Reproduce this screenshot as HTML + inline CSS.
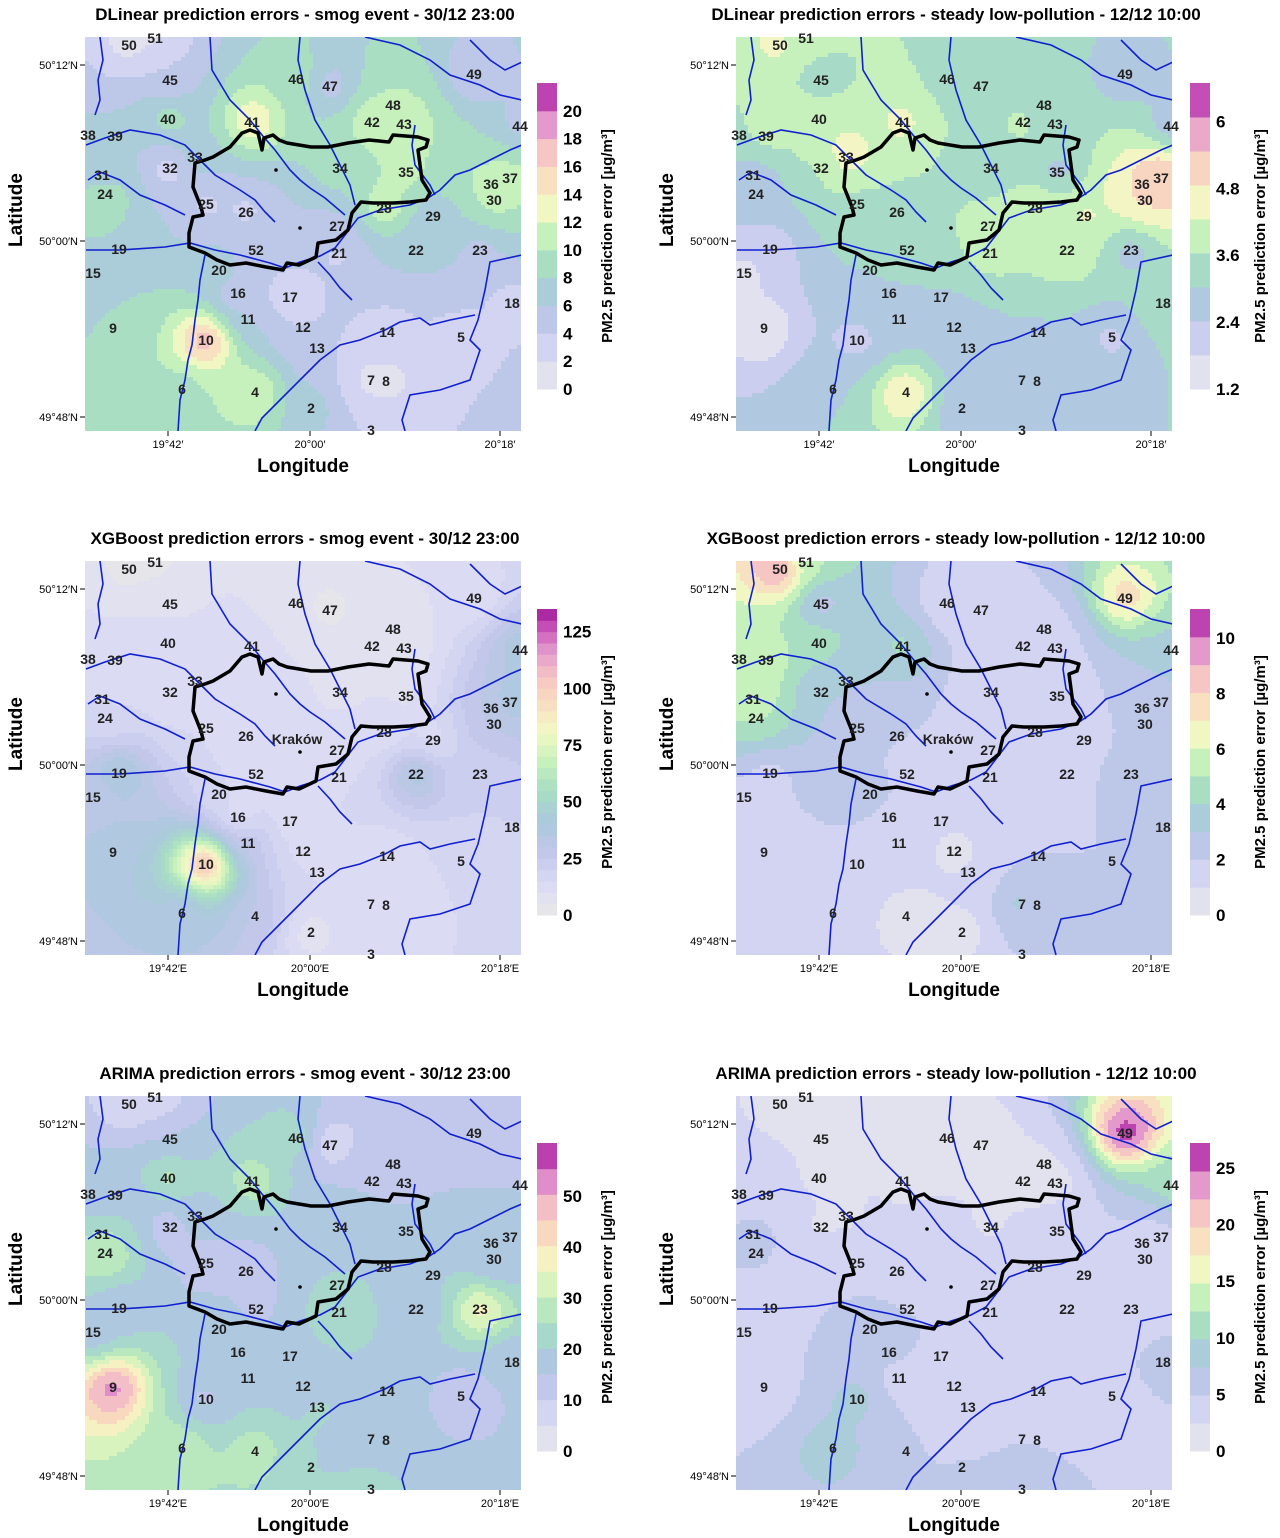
<!DOCTYPE html>
<html><head><meta charset="utf-8"><style>
html,body{margin:0;padding:0;background:#fff}
svg{display:block;font-family:"Liberation Sans",sans-serif}
.t{font-weight:bold;font-size:17px}
.st{font-weight:bold;font-size:14px;fill:#222}
.ax{font-size:11px}
.al{font-weight:bold;font-size:19px}
.cl{font-weight:bold;font-size:17px}
.ct{font-weight:bold;font-size:15px}
</style></head><body>
<svg id="fig" width="1280" height="1538" viewBox="0 0 1280 1538" xmlns="http://www.w3.org/2000/svg">
</svg>
<script>
// station ids and map positions (map units within the 436x394 map frame origin at 85,37)
const stationIds=[50,51,45,46,47,49,48,42,43,44,40,41,38,39,33,32,34,35,31,36,37,24,30,25,26,28,29,27,19,52,21,22,23,15,20,16,17,18,11,9,12,14,5,10,13,7,8,6,4,2,3];
const stationX=[129,155,170,296,330,474,393,372,404,520,168,252,88,115,195,170,340,406,102,491,510,105,494,206,246,384,433,337,119,256,339,416,480,93,219,238,290,512,248,113,303,387,461,206,317,371,386,182,255,311,371];
const stationY=[45,38,80,79,86,74,105,122,124,126,119,122,135,136,157,168,168,172,175,184,178,194,200,204,212,208,216,226,249,250,253,250,250,273,270,293,297,303,319,328,327,332,337,340,348,380,381,389,392,408,430];
// error values per station (same order as stationIds)
const errDLinearSmog=[1,1.5,4,10,4,4,10,12,12,5,10,15,6,6,8,1.5,9,11,6,11,11,11,11,3,3,13,6,5,8,5,3,6,5,8,8,3,1,3,6,8,4,3,3,20,4,1,1,9,13,7,4];
const errDLinearSteady=[4.5,4,3,3.5,3,2.5,3,4,3.5,2.5,4.5,4.5,3.6,4,5,3.5,3,2.5,2.5,5,6,2.5,5,3.5,3.5,4.5,4.5,4,2,3.5,4,4.2,2.5,1.5,3,3,3,3.5,2.5,1.2,2.5,3,2.2,2,2.5,2.5,2.5,3,5.3,2.5,2.5];
const errXGBSmog=[3,3,8,5,3,10,5,5,5,40,15,12,10,10,10,10,8,8,15,30,45,15,30,15,10,10,10,10,45,10,15,45,20,30,15,5,10,20,30,40,12,10,15,125,15,10,10,35,30,5,15];
const errXGBSteady=[10.5,5,2,1,1,8,1.5,1.5,1.5,4,5,4.5,6,6,3,3,1,1,6.5,2,3,5,2,2,2,1.5,1.5,1,1.5,1.5,1,1.5,3,1.5,3,1.5,1,2,1.5,1,0.5,2,2,2,1,4,2,1.5,0.3,0.3,2];
const errARIMASmog=[5,5,15,25,3,10,10,15,15,15,30,30,15,15,20,8,20,15,25,15,15,35,15,10,10,20,20,20,15,12,28,15,42,15,20,20,18,15,20,56,15,18,10,12,22,15,15,30,30,20,25];
const errARIMASteady=[2,2,2,1,1,28,2,1,1,12,2,2,3,3,2,2,2,4,7,4,4,5,4,4,3,4,4,4,4,5,4,3,3,5,8,6,5,6,3,3,3,2,4,9,4,5,5,9,5,5,7];
const baseValues=[4.5,2.8,12,1.5,18,4];
const tickDLinearSmog=[0,2,4,6,8,10,12,14,16,18,20];
const tickDLinearSteady=[1.2,2.4,3.6,4.8,6];
const tickXGBSmog=[0,25,50,75,100,125];
const tickXGBSteady=[0,2,4,6,8,10];
const tickARIMASmog=[0,10,20,30,40,50];
const tickARIMASteady=[0,5,10,15,20,25];
const titles=["DLinear prediction errors - smog event - 30/12 23:00","DLinear prediction errors - steady low-pollution - 12/12 10:00","XGBoost prediction errors - smog event - 30/12 23:00","XGBoost prediction errors - steady low-pollution - 12/12 10:00","ARIMA prediction errors - smog event - 30/12 23:00","ARIMA prediction errors - steady low-pollution - 12/12 10:00"];

const panels=[
 {vals:errDLinearSmog,ticks:tickDLinearSmog,vmin:0,vmax:22,nseg:11,dx:0,dy:0,E:""},
 {vals:errDLinearSteady,ticks:tickDLinearSteady,vmin:1.2,vmax:6.69,nseg:9,dx:651,dy:0,E:""},
 {vals:errXGBSmog,ticks:tickXGBSmog,vmin:0,vmax:135,nseg:27,dx:0,dy:524,E:"E"},
 {vals:errXGBSteady,ticks:tickXGBSteady,vmin:0,vmax:11.05,nseg:11,dx:651,dy:524,E:"E"},
 {vals:errARIMASmog,ticks:tickARIMASmog,vmin:0,vmax:60.4,nseg:12,dx:0,dy:1059,E:"E"},
 {vals:errARIMASteady,ticks:tickARIMASteady,vmin:0,vmax:27.2,nseg:11,dx:651,dy:1059,E:"E"}
];
const pal=[[0,[232,232,232]],[0.09,[220,220,244]],[0.2,[196,200,236]],[0.3,[172,200,222]],[0.4,[166,220,196]],[0.5,[198,240,188]],[0.6,[244,248,196]],[0.7,[248,220,192]],[0.78,[246,196,196]],[0.86,[228,156,204]],[0.93,[204,92,188]],[1,[160,24,154]]];
function col(t){t=Math.max(0,Math.min(1,t));for(let i=1;i<pal.length;i++){if(t<=pal[i][0]){const a=pal[i-1],b=pal[i];const f=(t-a[0])/(b[0]-a[0]);const c=a[1].map((v,k)=>Math.round(v+(b[1][k]-v)*f));return`rgb(${c})`;}}return"rgb(160,24,154)";}
const NS="http://www.w3.org/2000/svg";
const svg=document.getElementById('fig');
function mk(tag,at,parent){const e=document.createElementNS(NS,tag);for(const k in at)e.setAttribute(k,at[k]);(parent||svg).appendChild(e);return e;}
const rivers=[
"86,250 120,250 165,247 190,243 215,250 240,255 270,263 285,268 300,262 320,256 335,248 345,235 358,218 380,210 410,205 428,198 440,190 455,175 470,170 490,160 510,150 522,145",
"86,145 105,138 130,130 160,135 185,145 200,160 215,175 240,190 255,200 265,212 275,222",
"210,37 212,70 230,100 250,120 262,135 275,150 290,170 300,180 310,188 325,198 345,215",
"300,37 298,60 305,90 315,120 330,145 340,165 350,185 355,205",
"365,37 400,45 430,60 450,75 480,85 500,95 522,100",
"415,125 412,145 415,165 430,185 435,195",
"522,255 490,262 485,290 478,320 470,340 480,350 470,380 440,390 410,395 402,420 405,431",
"205,255 200,280 198,300 195,320 192,345 188,360 185,380 180,400 178,431",
"255,431 262,418 280,400 300,380 320,360 340,345 360,340 385,330 400,322 420,318 430,325 450,320 475,315",
"100,37 103,60 98,80 100,100 95,115",
"88,180 100,172 120,180 140,195 165,205 185,215",
"318,262 330,275 340,288 352,300",
"470,40 490,60 505,70 522,62"
];
const border="189,233 193,217 203,215 201,207 193,187 195,163 205,160 213,157 230,147 242,133 250,130 258,133 262,150 264,138 273,135 279,140 287,143 311,147 328,147 348,143 369,140 389,142 393,135 418,137 428,140 426,147 418,150 422,180 430,193 426,200 410,202 393,203 373,203 361,202 352,213 348,230 336,240 318,243 316,257 299,265 287,263 283,270 266,267 246,263 230,265 217,260 205,253 189,247";
const CELL=4;

panels.forEach((p,pi)=>{
 const g=mk('g',{transform:`translate(${p.dx},${p.dy})`});
 
 
 const T=mk('text',{x:305,y:20,'text-anchor':'middle',class:'t'},g);T.textContent=titles[pi];
 
 
 const cp=mk('clipPath',{id:'cp'+pi},g);mk('rect',{x:85,y:37,width:436,height:394},cp);
 const map=mk('g',{'clip-path':`url(#cp${pi})`},g);
 
 
 const sc=v=>(v-p.vmin)/(p.vmax-p.vmin);
 const cells=mk('g',{'shape-rendering':'crispEdges'},map);
 for(let y=37;y<431;y+=CELL){let runX=85,runK=-1;
  const flush=(xe)=>{if(runK>=0)mk('rect',{x:runX,y:y,width:xe-runX+0.3,height:CELL+0.3,fill:col((runK+0.5)/p.nseg)},cells);};
  for(let x=85;x<521;x+=CELL){
   const cx=x+CELL/2,cy=y+CELL/2;let sw=0.0000002,sv=0.0000002*baseValues[pi];
   for(let i=0;i<stationIds.length;i++){const dx=cx-stationX[i],dy=cy-stationY[i];const d2=dx*dx+dy*dy+400;const w=Math.pow(d2,-1.4);sw+=w;sv+=w*p.vals[i];}
   const t=sc(sv/sw);const k=Math.max(0,Math.min(p.nseg-1,Math.floor(t*p.nseg)));
   if(k!==runK){flush(x);runX=x;runK=k;}
  }
  flush(521);
 }
 rivers.forEach(r=>{const l=mk('polyline',{points:r,fill:'none',stroke:'#1020d0','stroke-width':1.6},map);
   
   });
 const b=mk('polygon',{points:border,fill:'none',stroke:'#000','stroke-width':3.5,'stroke-linejoin':'round'},map);
 
 
 mk('circle',{cx:276,cy:170,r:1.8,fill:'#000'},map);mk('circle',{cx:300,cy:228,r:1.8,fill:'#000'},map);
 if(pi===2||pi===3){const k=mk('text',{x:297,y:220,'text-anchor':'middle',class:'st'},map);k.textContent='Kraków';
   
   }
 stationIds.forEach((id,i)=>{const s=mk('text',{x:stationX[i],y:stationY[i]+5,'text-anchor':'middle',class:'st'},g);s.textContent=id;
   
   });
 [["50°12′N",65],["50°00′N",241],["49°48′N",417]].forEach(a=>{mk('line',{x1:80,x2:85,y1:a[1],y2:a[1],stroke:'#000'},g);
   const l=mk('text',{x:78,y:a[1]+4,'text-anchor':'end',class:'ax'},g);l.textContent=a[0];
   
   });
 [["19°42′",168],["20°00′",310],["20°18′",500]].forEach(a=>{mk('line',{x1:a[1],x2:a[1],y1:431,y2:436,stroke:'#000'},g);
   const l=mk('text',{x:a[1],y:448,'text-anchor':'middle',class:'ax'},g);l.textContent=a[0]+p.E;
   
   });
 const xl=mk('text',{x:303,y:472,'text-anchor':'middle',class:'al'},g);xl.textContent='Longitude';
 
 
 const yl=mk('text',{x:0,y:0,'text-anchor':'middle',class:'al',transform:'translate(22,210) rotate(-90)'},g);yl.textContent='Latitude';
 
 
 const top=(pi<2?83:(pi<4?609:84+1059))-p.dy, bot=(pi<2?389:(pi<4?915:1451))-p.dy;
 const bx=pi%2?539:537;
 const cb=mk('g',{},g);
 
 
 const h=(bot-top)/p.nseg;
 for(let i=0;i<p.nseg;i++){mk('rect',{x:bx,y:bot-(i+1)*h,width:20,height:h+0.5,fill:col((i+0.5)/p.nseg)},cb);}
 const yv=v=>bot-(v-p.vmin)/(p.vmax-p.vmin)*(bot-top);
 p.ticks.forEach(v=>{const l=mk('text',{x:bx+26,y:yv(v)+6,class:'cl'},cb);l.textContent=v;
   
   });
 const ct=mk('text',{x:0,y:0,'text-anchor':'middle',class:'ct',transform:`translate(${bx+75},${(top+bot)/2}) rotate(-90)`},cb);ct.textContent='PM2.5 prediction error [µg/m³]';
 
 
});
</script>
</body></html>
